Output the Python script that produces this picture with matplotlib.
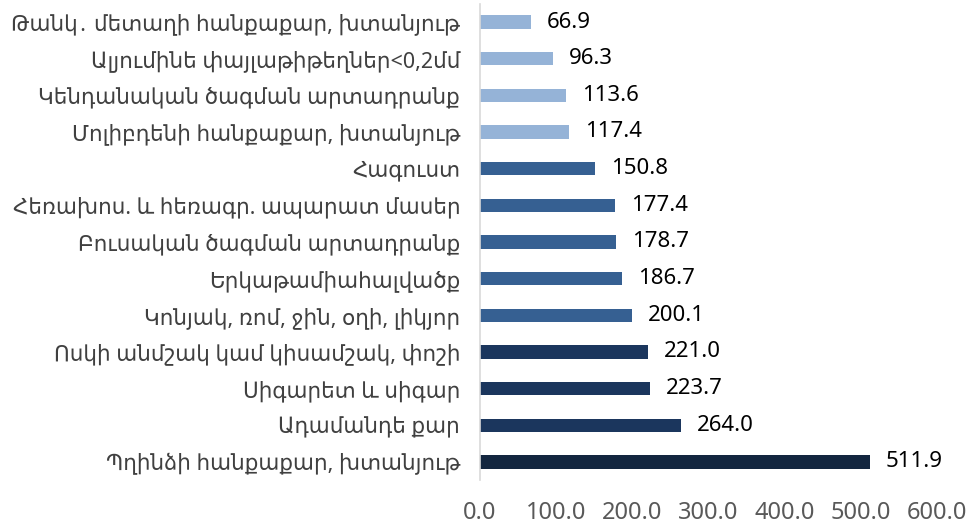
import matplotlib
matplotlib.use("Agg")
import matplotlib.pyplot as plt

# data, top to bottom as in the picture
categories = [
    "Թանկ․ մետաղի հանքաքար, խտանյութ",
    "Ալյումինե փայլաթիթեղներ<0,2մմ",
    "Կենդանական ծագման արտադրանք",
    "Մոլիբդենի հանքաքար, խտանյութ",
    "Հագուստ",
    "Հեռախոս. և հեռագր. ապարատ մասեր",
    "Բուսական ծագման արտադրանք",
    "Երկաթամիահալվածք",
    "Կոնյակ, ռոմ, ջին, օղի, լիկյոր",
    "Ոսկի անմշակ կամ կիսամշակ, փոշի",
    "Սիգարետ և սիգար",
    "Ադամանդե քար",
    "Պղինձի հանքաքար, խտանյութ",
]
values = [66.9, 96.3, 113.6, 117.4, 150.8, 177.4, 178.7, 186.7, 200.1,
          221.0, 223.7, 264.0, 511.9]
groups = [0, 0, 0, 0, 1, 1, 1, 1, 1, 2, 2, 2, 3]
group_colors = ["#95b3d7", "#366092", "#1b365d", "#13263f"]

plt.rcParams["font.family"] = ["Noto Sans", "DejaVu Sans"]

fig = plt.figure(figsize=(9.71, 5.26), dpi=100)
ax = fig.add_axes([0.494, 0.087, 0.471, 0.906])

ypos = list(range(len(categories)))[::-1]
colors = [group_colors[g] for g in groups]
ax.barh(ypos, values, height=0.36, color=colors)

for y, v in zip(ypos, values):
    ax.text(v + 21, y, f"{v:.1f}", va="center", ha="left",
            fontsize=16, color="black")

ax.set_yticks(ypos)
ax.set_yticklabels(categories, fontsize=15.5, color="#404040")
ax.set_ylim(-0.5, len(categories) - 0.5)
ax.set_xlim(0, 600)
ax.set_xticks(range(0, 601, 100))
ax.set_xticklabels([f"{t:.1f}" for t in range(0, 601, 100)],
                   fontsize=17, color="#595959")
ax.tick_params(axis="both", length=0)
ax.tick_params(axis="x", pad=15)
ax.tick_params(axis="y", pad=14)

for s in ["top", "right", "bottom"]:
    ax.spines[s].set_visible(False)
ax.spines["left"].set_color("#d9d9d9")
ax.spines["left"].set_linewidth(1.2)

fig.savefig("out.png", dpi=100)
